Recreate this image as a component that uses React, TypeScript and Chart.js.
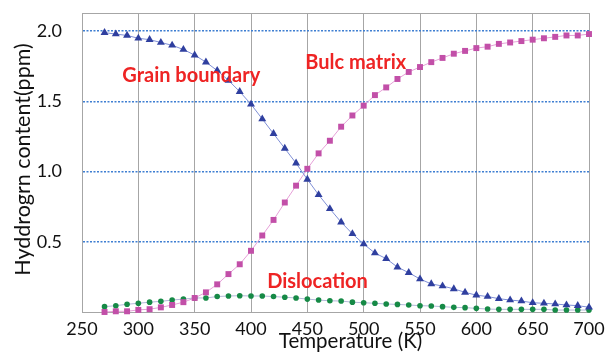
import { useEffect, useRef } from "react";
import { Chart, registerables } from "chart.js";

Chart.register(...registerables);

const temperatures = [
  270, 280, 290, 300, 310, 320, 330, 340, 350, 360, 370, 380, 390, 400, 410,
  420, 430, 440, 450, 460, 470, 480, 490, 500, 510, 520, 530, 540, 550, 560,
  570, 580, 590, 600, 610, 620, 630, 640, 650, 660, 670, 680, 690, 700,
];

const grainBoundary = [
  1.99, 1.98, 1.97, 1.95, 1.94, 1.92, 1.9, 1.87, 1.83, 1.78, 1.72, 1.65, 1.57,
  1.48, 1.375, 1.27, 1.165, 1.06, 0.945, 0.835, 0.735, 0.64, 0.557, 0.484,
  0.42, 0.38, 0.32, 0.28, 0.235, 0.2, 0.185, 0.165, 0.14, 0.12, 0.11, 0.095,
  0.085, 0.078, 0.066, 0.062, 0.057, 0.05, 0.045, 0.034,
];

const bulcMatrix = [
  0.0, 0.005, 0.005, 0.015, 0.02, 0.033, 0.05, 0.07, 0.1, 0.14, 0.197, 0.27,
  0.34, 0.436, 0.545, 0.656, 0.78, 0.9, 1.02, 1.13, 1.22, 1.32, 1.4, 1.47,
  1.545, 1.6, 1.66, 1.71, 1.745, 1.78, 1.81, 1.84, 1.86, 1.88, 1.89, 1.91,
  1.92, 1.93, 1.94, 1.95, 1.96, 1.97, 1.97, 1.98,
];

const dislocation = [
  0.038, 0.045, 0.055, 0.062, 0.07, 0.076, 0.085, 0.092, 0.1, 0.1, 0.11, 0.114,
  0.116, 0.114, 0.114, 0.11, 0.105, 0.1, 0.092, 0.085, 0.08, 0.078, 0.07,
  0.066, 0.062, 0.057, 0.054, 0.05, 0.045, 0.043, 0.038, 0.033, 0.031, 0.026,
  0.021, 0.019, 0.019, 0.019, 0.019, 0.019, 0.014, 0.014, 0.014, 0.014,
];

const yTickValues = [0.5, 1.0, 1.5, 2.0];

const labelTexts = ["Grain boundary", "Bulc matrix", "Dislocation"];
const labelTemps = [347, 493, 459];
const labelValues = [1.684, 1.778, 0.216];

const xTitle = "Temperature (K)";
const yTitle = "Hyddrogrn content(ppm)";

const FONT = "Lato, 'Noto Sans', sans-serif";

const overlayPlugin = {
  id: "overlay",
  afterDraw(chart: any) {
    const { ctx, chartArea, scales } = chart;
    ctx.save();
    ctx.strokeStyle = "#a6a6a6";
    ctx.lineWidth = 1;
    ctx.beginPath();
    ctx.moveTo(chartArea.left, chartArea.top + 0.5);
    ctx.lineTo(chartArea.right, chartArea.top + 0.5);
    ctx.stroke();

    ctx.fillStyle = "#ee2424";
    ctx.font = `bold 20px ${FONT}`;
    ctx.textAlign = "center";
    ctx.textBaseline = "middle";
    labelTexts.forEach((t, i) => {
      ctx.fillText(
        t,
        scales.x.getPixelForValue(labelTemps[i]),
        scales.y.getPixelForValue(labelValues[i])
      );
    });

    ctx.fillStyle = "#111";
    ctx.font = `20.5px ${FONT}`;
    ctx.textAlign = "center";
    ctx.textBaseline = "alphabetic";
    ctx.fillText(xTitle, (chartArea.left + chartArea.right) / 2 + 15, chartArea.bottom + 36);

    ctx.font = `21.5px ${FONT}`;
    ctx.translate(30, (chartArea.top + chartArea.bottom) / 2 - 3);
    ctx.rotate(-Math.PI / 2);
    ctx.fillText(yTitle, 0, 0);
    ctx.restore();
  },
};

export default function App() {
  const ref = useRef<HTMLCanvasElement | null>(null);

  useEffect(() => {
    if (!ref.current) return;
    const chart = new Chart(ref.current, {
      type: "line",
      data: {
        datasets: [
          {
            label: "Grain boundary",
            data: temperatures.map((t, i) => ({ x: t, y: grainBoundary[i] })),
            borderColor: "#7f8fd6",
            borderWidth: 1,
            pointStyle: "triangle",
            pointRadius: 4.6,
            pointBackgroundColor: "#2f3f9f",
            pointBorderColor: "#2f3f9f",
            pointBorderWidth: 0,
            clip: false,
          },
          {
            label: "Bulc matrix",
            data: temperatures.map((t, i) => ({ x: t, y: bulcMatrix[i] })),
            borderColor: "#e6a0d8",
            borderWidth: 1,
            pointStyle: "rect",
            pointRadius: 4.2,
            pointBackgroundColor: "#c24fa8",
            pointBorderColor: "#c24fa8",
            pointBorderWidth: 0,
            clip: false,
          },
          {
            label: "Dislocation",
            data: temperatures.map((t, i) => ({ x: t, y: dislocation[i] })),
            borderColor: "#b4b8d8",
            borderWidth: 1,
            pointStyle: "circle",
            pointRadius: 2.8,
            pointBackgroundColor: "#168a46",
            pointBorderColor: "#168a46",
            pointBorderWidth: 0,
            clip: false,
          },
        ],
      },
      options: {
        animation: false,
        responsive: false,
        layout: { autoPadding: false, padding: { top: 13, right: 19, left: 0, bottom: 0 } },
        plugins: {
          legend: { display: false },
          tooltip: { enabled: false },
        },
        scales: {
          x: {
            type: "linear",
            min: 250,
            max: 700,
            ticks: {
              stepSize: 50,
              font: { family: FONT, size: 18 },
              color: "#111",
              padding: 6,
              maxRotation: 0,
            },
            grid: { color: "#a6a6a6", lineWidth: 1, drawTicks: false },
            border: { color: "#a6a6a6", width: 1 },
            afterFit: (s: any) => {
              s.height = 40;
              s.paddingLeft = 0;
              s.paddingRight = 0;
              s.paddingTop = 0;
              s.paddingBottom = 0;
            },
          },
          y: {
            type: "linear",
            min: 0,
            max: 2.13,
            afterBuildTicks: (s: any) => {
              s.ticks = yTickValues.map((v) => ({ value: v }));
            },
            ticks: {
              font: { family: FONT, size: 18 },
              color: "#111",
              padding: 20,
              callback: (v: any) => Number(v).toFixed(1),
            },
            grid: { color: "#3f7fd2", lineWidth: 1.6, drawTicks: false },
            border: { color: "#a6a6a6", width: 1, dash: [2, 1.5] },
            afterFit: (s: any) => {
              s.width = 82;
              s.paddingLeft = 0;
              s.paddingRight = 0;
              s.paddingTop = 0;
              s.paddingBottom = 0;
            },
          },
        },
      },
      plugins: [overlayPlugin],
    });
    return () => chart.destroy();
  }, []);

  return (
    <div style={{ position: "absolute", left: 0, top: 0, width: 608, height: 352, background: "#fff" }}>
      <canvas ref={ref} width={608} height={352} style={{ width: 608, height: 352 }} />
    </div>
  );
}
